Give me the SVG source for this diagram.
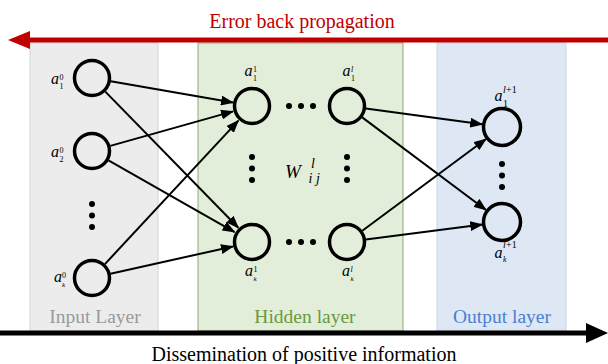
<svg xmlns="http://www.w3.org/2000/svg" width="608" height="364" viewBox="0 0 608 364">
<style>
.node{fill:none;stroke:#000;stroke-width:3.5}
.con{stroke:#000;stroke-width:2;fill:none}
.dot{fill:#000}
.t{font-family:"Liberation Serif","Times New Roman",serif}
.a{font-family:"Liberation Serif","Times New Roman",serif;font-style:italic;fill:#000}
.s{font-family:"Liberation Serif","Times New Roman",serif;fill:#000}
.si{font-family:"Liberation Serif","Times New Roman",serif;font-style:italic;fill:#000}
</style>
<defs>
<marker id="ah" viewBox="0 0 13 10" refX="12" refY="5" markerWidth="13" markerHeight="10" markerUnits="userSpaceOnUse" orient="auto">
<path d="M0,0 L13,5 L0,10 Z" fill="#000"/>
</marker>
</defs>
<rect width="608" height="364" fill="#fff"/>
<g id="panels">
<rect x="30" y="43" width="128" height="288" fill="#ececec" stroke="#d4d4d4" stroke-width="1"/>
<rect x="198" y="43" width="205" height="288" fill="#e2eed9" stroke="#8fa878" stroke-width="1"/>
<rect x="437" y="43" width="129" height="288" fill="#dde8f4" stroke="#c8d6e8" stroke-width="1"/>
<text class="t" x="95" y="323" font-size="19.5" fill="#9a9a9a" text-anchor="middle">Input Layer</text>
<text class="t" x="305" y="323" font-size="19.5" fill="#6a9a40" text-anchor="middle">Hidden layer</text>
<text class="t" x="502" y="323" font-size="19.5" fill="#4a7fd0" text-anchor="middle">Output layer</text>
</g>
<g id="error-arrow">
<line x1="28" y1="40" x2="608" y2="40" stroke="#c00000" stroke-width="5"/>
<path d="M8,40 L30,31 L30,49 Z" fill="#c00000"/>
<text class="t" x="302" y="28" font-size="20" fill="#c00000" text-anchor="middle">Error back propagation</text>
</g>
<g id="forward-arrow">
<line x1="0" y1="333" x2="590" y2="333" stroke="#000" stroke-width="5"/>
<path d="M608,333 L586,323 L586,343 Z" fill="#000"/>
<text class="t" x="304" y="361" font-size="20" fill="#000" text-anchor="middle">Dissemination of positive information</text>
</g>
<g id="connectors">
<line class="con" x1="110.7" y1="81.3" x2="233" y2="102.6" marker-end="url(#ah)"/>
<line class="con" x1="105.3" y1="91.6" x2="238.3" y2="227.7" marker-end="url(#ah)"/>
<line class="con" x1="110.3" y1="145.9" x2="233" y2="111.4" marker-end="url(#ah)"/>
<line class="con" x1="108.5" y1="160.4" x2="234.6" y2="232.1" marker-end="url(#ah)"/>
<line class="con" x1="104.9" y1="264.1" x2="238.4" y2="120.6" marker-end="url(#ah)"/>
<line class="con" x1="110.5" y1="273.8" x2="233" y2="246.4" marker-end="url(#ah)"/>
<line class="con" x1="365.8" y1="108.5" x2="482.2" y2="124.3" marker-end="url(#ah)"/>
<line class="con" x1="362.2" y1="117.4" x2="486" y2="210" marker-end="url(#ah)"/>
<line class="con" x1="362.3" y1="230.7" x2="486" y2="139" marker-end="url(#ah)"/>
<line class="con" x1="365.8" y1="239.6" x2="482.2" y2="224.6" marker-end="url(#ah)"/>
</g>
<g id="in1"><circle class="node" cx="92" cy="78" r="17.5"/>
<text class="a" x="51" y="84" font-size="16">a</text><text class="s" x="59.5" y="79.5" font-size="8">0</text><text class="s" x="59.5" y="89" font-size="8">1</text></g>
<g id="in2"><circle class="node" cx="92" cy="151" r="17.5"/>
<text class="a" x="51" y="157" font-size="16">a</text><text class="s" x="59.5" y="152.5" font-size="8">0</text><text class="s" x="59.5" y="162" font-size="8">2</text></g>
<g id="in-dots"><circle class="dot" cx="92" cy="204" r="3"/><circle class="dot" cx="92" cy="215.5" r="3"/><circle class="dot" cx="92" cy="227" r="3"/></g>
<g id="ink"><circle class="node" cx="92" cy="278" r="17.5"/>
<text class="a" x="54" y="282" font-size="16">a</text><text class="s" x="62" y="277.5" font-size="8">0</text><text class="si" x="62" y="286.5" font-size="7">k</text></g>
<g id="h11"><circle class="node" cx="252" cy="106" r="17.5"/>
<text class="a" x="244.5" y="76" font-size="16">a</text><text class="s" x="253" y="71.5" font-size="8">1</text><text class="s" x="253" y="81" font-size="8">1</text></g>
<g id="hl1"><circle class="node" cx="347" cy="106" r="17.5"/>
<text class="a" x="342.5" y="76" font-size="16">a</text><text class="si" x="351" y="71.5" font-size="8">l</text><text class="s" x="351" y="81" font-size="8">1</text></g>
<g id="h1k"><circle class="node" cx="252" cy="242" r="17.5"/>
<text class="a" x="245" y="276" font-size="16">a</text><text class="s" x="253.5" y="271.5" font-size="8">1</text><text class="si" x="253.5" y="280.5" font-size="7">k</text></g>
<g id="hlk"><circle class="node" cx="347" cy="242" r="17.5"/>
<text class="a" x="342" y="276" font-size="16">a</text><text class="si" x="350.5" y="271.5" font-size="8">l</text><text class="si" x="350.5" y="280.5" font-size="7">k</text></g>
<g id="h-dots">
<circle class="dot" cx="289" cy="106" r="3"/><circle class="dot" cx="301" cy="106" r="3"/><circle class="dot" cx="313" cy="106" r="3"/>
<circle class="dot" cx="289" cy="242" r="3"/><circle class="dot" cx="301" cy="242" r="3"/><circle class="dot" cx="313" cy="242" r="3"/>
<circle class="dot" cx="252" cy="157" r="3"/><circle class="dot" cx="252" cy="168.5" r="3"/><circle class="dot" cx="252" cy="180" r="3"/>
<circle class="dot" cx="347" cy="157" r="3"/><circle class="dot" cx="347" cy="168.5" r="3"/><circle class="dot" cx="347" cy="180" r="3"/>
</g>
<g id="weight">
<text class="a" x="285" y="178" font-size="19">W</text>
<text class="si" x="311" y="168" font-size="14">l</text>
<text class="si" x="308.5" y="182.5" font-size="14">i j</text>
</g>
<g id="o1"><circle class="node" cx="502" cy="127" r="18.5"/>
<text class="a" x="494.5" y="100.7" font-size="16">a</text><text class="si" x="503" y="93" font-size="10">l</text><text class="s" x="506" y="93" font-size="10">+1</text><text class="s" x="503" y="107" font-size="10">1</text></g>
<g id="o-dots"><circle class="dot" cx="502" cy="164" r="3"/><circle class="dot" cx="502" cy="175.5" r="3"/><circle class="dot" cx="502" cy="187" r="3"/></g>
<g id="ok"><circle class="node" cx="502" cy="222" r="18.5"/>
<text class="a" x="494.5" y="258" font-size="16">a</text><text class="si" x="503" y="248" font-size="10">l</text><text class="s" x="506" y="248" font-size="10">+1</text><text class="si" x="503" y="262" font-size="8">k</text></g>
</svg>
